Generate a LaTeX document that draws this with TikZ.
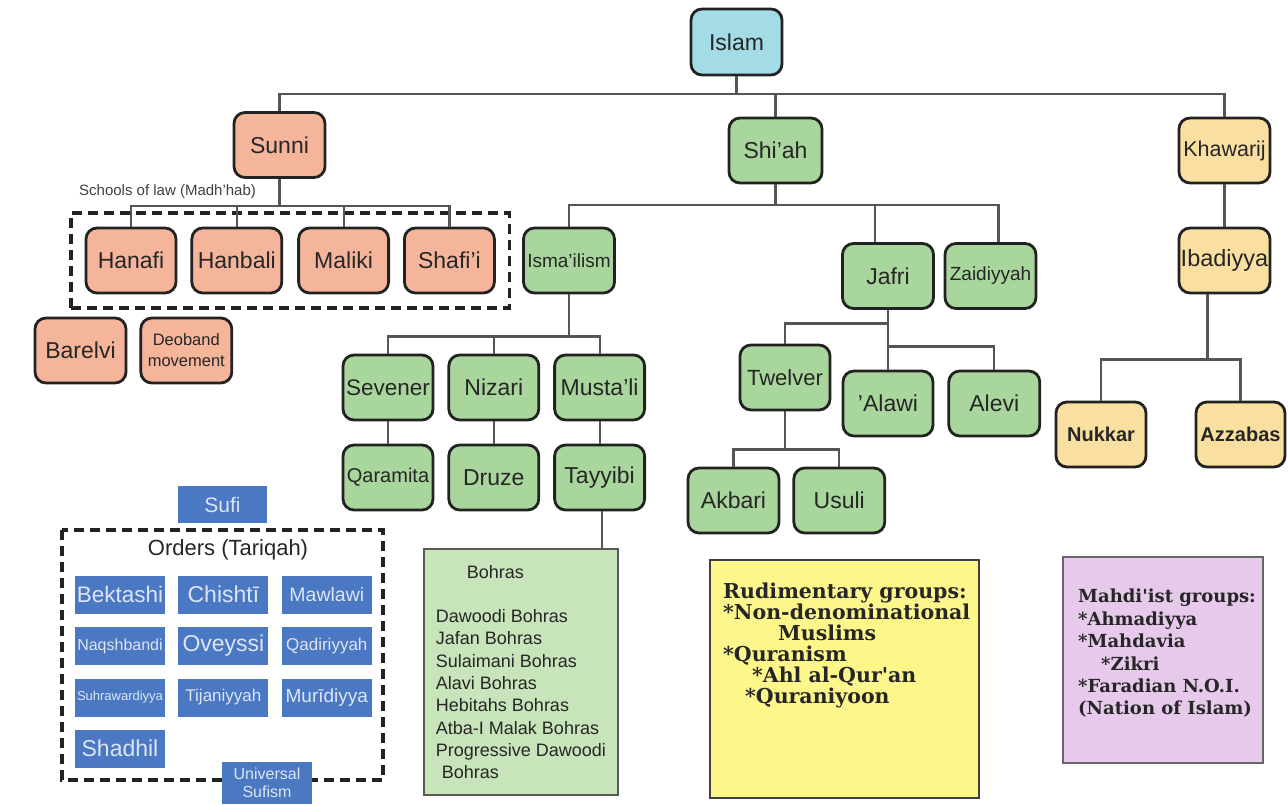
\documentclass[tikz,border=0pt]{standalone}
\usepackage{fontspec}
\setmainfont{Liberation Sans}
\newfontfamily\notefont{DejaVu Serif}
\usetikzlibrary{positioning, fit}

\definecolor{islamcyan}{HTML}{A3DCE6}
\definecolor{sunnisalmon}{HTML}{F5B59B}
\definecolor{shiagreen}{HTML}{A9D69C}
\definecolor{kharijyellow}{HTML}{FAE0A0}
\definecolor{sufiblue}{HTML}{4A78C2}
\definecolor{sufitext}{HTML}{DCE5F3}
\definecolor{bohragreen}{HTML}{C8E4BA}
\definecolor{rudiyellow}{HTML}{FDF68A}
\definecolor{mahdililac}{HTML}{E7C9EC}
\definecolor{conngrey}{HTML}{555555}
\definecolor{edgedark}{HTML}{222222}

\newcommand{\txtsize}[2]{\fontsize{#1}{#2}\selectfont}

\begin{document}
\begin{tikzpicture}[
    x=1pt, y=-1pt,
    sect/.style={
        draw=edgedark,
        line width=2.8pt,
        rounded corners=11pt,
        minimum width=91pt,
        minimum height=65pt,
        inner sep=1pt,
        align=center,
        text=black!85,
        font=\txtsize{23}{26},
    },
    islamnode/.style={sect, fill=islamcyan},
    sunninode/.style={sect, fill=sunnisalmon},
    shianode/.style={sect, fill=shiagreen},
    kharijnode/.style={sect, fill=kharijyellow},
    conn/.style={
        draw=conngrey,
        line width=2.2pt,
    },
    dashframe/.style={
        draw=edgedark,
        line width=3.3pt,
        dash pattern=on 10pt off 6pt,
    },
    order/.style={
        fill=sufiblue,
        minimum width=90pt,
        minimum height=38pt,
        inner sep=0pt,
        text=sufitext,
        font=\txtsize{20}{22},
    },
    note/.style={
        draw=black!70,
        line width=1.8pt,
        inner sep=0pt,
    },
    notetext/.style={
        anchor=north west,
        align=left,
        inner sep=0pt,
        text=black!85,
    },
]
    \path[use as bounding box, fill=white] (0,0) rectangle (1288,805);

    % Root and main branches
    \node[islamnode, minimum height=66pt] (islam) at (736.5,42) {Islam};
    \node[sunninode] (sunni) at (279.5,145) {Sunni};
    \node[shianode, minimum width=93pt] (shiah) at (775.5,150.5) {Shi'ah};
    \node[kharijnode, font=\txtsize{21.5}{24}] (khawarij) at (1224.5,150.5) {Khawarij};

    % Sunni
    \node[sunninode, minimum width=90pt] (hanafi) at (131,260.5) {Hanafi};
    \node[sunninode, minimum width=90pt, right=13pt of hanafi] (hanbali) {Hanbali};
    \node[sunninode, minimum width=90pt, right=14pt of hanbali] (maliki) {Maliki};
    \node[sunninode, minimum width=90pt, right=13pt of maliki] (shafii) {Shafi'i};
    \node[dashframe, fit=(hanafi)(shafii), inner sep=13.5pt] (madhhab) {};
    \node[anchor=west, inner sep=0pt, text=black!75, font=\txtsize{15}{17}] (schools) at (79,192) {Schools of law (Madh'hab)};
    \node[sunninode] (barelvi) at (80.5,350.5) {Barelvi};
    \node[sunninode, right=12pt of barelvi, font=\txtsize{16.5}{21}] (deoband) {Deoband\\movement};

    % Shi'ah
    \node[shianode, font=\txtsize{19}{22}] (ismailism) at (569,260.5) {Isma'ilism};
    \node[shianode] (jafri) at (888,276) {Jafri};
    \node[shianode, font=\txtsize{19}{22}] (zaidiyyah) at (990.5,276) {Zaidiyyah};

    \node[shianode, minimum width=90pt, font=\txtsize{22.5}{25}] (sevener) at (388,387.5) {Sevener};
    \node[shianode, minimum width=90pt, right=13pt of sevener] (nizari) {Nizari};
    \node[shianode, minimum width=90pt, right=13pt of nizari] (mustali) {Musta'li};
    \node[shianode, minimum width=90pt, font=\txtsize{20}{22}] (qaramita) at (388,477.5) {Qaramita};
    \node[shianode, minimum width=90pt, right=13pt of qaramita] (druze) {Druze};
    \node[shianode, minimum width=90pt, right=13pt of druze] (tayyibi) {Tayyibi};

    \node[shianode, minimum width=90pt, font=\txtsize{22}{25}] (twelver) at (785,377.5) {Twelver};
    \node[shianode, minimum width=90pt] (alawi) at (888,403.5) {'Alawi};
    \node[shianode, right=13pt of alawi] (alevi) {Alevi};
    \node[shianode] (akbari) at (733.5,500.5) {Akbari};
    \node[shianode, right=12pt of akbari] (usuli) {Usuli};

    \node[note, draw=black!65, fill=bohragreen, minimum width=194pt, minimum height=246pt,
          align=left, text=black!85, font=\txtsize{18}{22.3}] (bohras) at (521,672)
        {\hspace*{31pt}Bohras\\[22.3pt]Dawoodi Bohras\\Jafan Bohras\\Sulaimani Bohras\\Alavi Bohras\\Hebitahs Bohras\\Atba-I Malak Bohras\\Progressive Dawoodi\\\hspace*{6pt}Bohras};

    % Khawarij
    \node[kharijnode, inner sep=0pt, font=\txtsize{23.5}{26}] (ibadiyya) at (1224.5,260.5) {Ibadiyya};
    \node[kharijnode, minimum width=90pt, font=\bfseries\txtsize{20}{22}] (nukkar) at (1101,434.5) {Nukkar};
    \node[kharijnode, minimum width=89pt, font=\bfseries\txtsize{20}{22}] (azzabas) at (1240.5,434.5) {Azzabas};

    % Sufi orders
    \node[order, minimum width=89pt, minimum height=37pt, font=\txtsize{21}{23}] (sufi) at (222.5,504.5) {Sufi};
    \draw[dashframe] (62,530) rectangle (383,780);
    \node[text=black!85, font=\txtsize{22}{24}] (tariqah) at (228,550) {Orders (Tariqah)};
    \node[order, font=\txtsize{22.5}{24}] (bektashi) at (120,594.5) {Bektashi};
    \node[order, right=13pt of bektashi, font=\txtsize{23}{25}] (chishti) {Chishtī};
    \node[order, right=13pt of chishti, font=\txtsize{19.5}{22}] (mawlawi) {Mawlawi};
    \node[order, font=\txtsize{16}{18}] (naqshbandi) at (120,646) {Naqshbandi};
    \node[order, right=13pt of naqshbandi, font=\txtsize{23}{25}] (oveyssi) {Oveyssi};
    \node[order, right=13pt of oveyssi, font=\txtsize{17}{19}] (qadiriyyah) {Qadiriyyah};
    \node[order, font=\txtsize{13}{15}] (suhrawardiyya) at (120,697.5) {Suhrawardiyya};
    \node[order, right=13pt of suhrawardiyya, font=\txtsize{17}{19}] (tijaniyyah) {Tijaniyyah};
    \node[order, right=13pt of tijaniyyah, font=\txtsize{19}{21}] (muridiyya) {Murīdiyya};
    \node[order, font=\txtsize{23}{25}] (shadhil) at (120,748.5) {Shadhil};
    \node[order, minimum height=42pt, align=center, font=\txtsize{16}{18}] (universal) at (267,783) {Universal\\Sufism};

    % Other groups
    \node[note, draw=black!75, fill=rudiyellow, minimum width=269pt, minimum height=238pt] (rudimentary) at (844.5,679) {};
    \node[notetext, font=\notefont\bfseries\txtsize{20.5}{21}] (rudilist) at (723,583)
        {Rudimentary groups:\\{*}Non-denominational\\\hspace*{55pt}Muslims\\{*}Quranism\\\hspace*{29pt}*Ahl al-Qur'an\\\hspace*{22pt}*Quraniyoon};
    \node[note, draw=black!60, fill=mahdililac, minimum width=200pt, minimum height=206pt] (mahdist) at (1163,660) {};
    \node[notetext, font=\notefont\bfseries\txtsize{18}{22.4}] (mahdilist) at (1078,589)
        {Mahdi'ist groups:\\{*}Ahmadiyya\\{*}Mahdavia\\\hspace*{23pt}*Zikri\\{*}Faradian N.O.I.\\(Nation of Islam)};

    % Connectors
    \draw[conn] (islam.south) -- ++(0,18) coordinate (rootbus) -| (sunni.north);
    \draw[conn] (rootbus) -| (shiah.north);
    \draw[conn] (rootbus) -| (khawarij.north);

    \draw[conn] (sunni.south) -- ++(0,27) coordinate (sunnibus) -| (hanafi.north);
    \draw[conn] (sunnibus) -| (hanbali.north);
    \draw[conn] (sunnibus) -| (maliki.north);
    \draw[conn] (sunnibus) -| (shafii.north);

    \draw[conn] (shiah.south) -- ++(0,21) coordinate (shiabus) -| (ismailism.north);
    \draw[conn] (shiabus) -| ([xshift=-13pt]jafri.north);
    \draw[conn] (shiabus) -| ([xshift=8pt]zaidiyyah.north);

    \draw[conn] (ismailism.south) -- ++(0,42) coordinate (ismabus) -| (sevener.north);
    \draw[conn] (ismabus) -| (nizari.north);
    \draw[conn] (ismabus) -| (mustali.north);
    \draw[conn] (sevener) -- (qaramita);
    \draw[conn] (nizari) -- (druze);
    \draw[conn] (mustali) -- (tayyibi);
    \draw[conn] ([xshift=2.5pt]tayyibi.south) -- ([xshift=2.5pt]tayyibi.south |- bohras.north);

    \draw[conn] (jafri.south) -- ++(0,13.5) coordinate (jafribus) -| (twelver.north);
    \draw[conn] (jafribus) -- (alawi.north);
    \draw[conn] (jafribus) ++(0,23) -| (alevi.north);
    \draw[conn] (twelver.south) -- ++(0,38) coordinate (twelverbus) -| (akbari.north);
    \draw[conn] (twelverbus) -| (usuli.north);

    \draw[conn] (khawarij) -- (ibadiyya);
    \draw[conn] ([xshift=-17pt]ibadiyya.south) -- ++(0,65) coordinate (ibadibus) -| (nukkar.north);
    \draw[conn] (ibadibus) -| (azzabas.north);
\end{tikzpicture}
\end{document}
